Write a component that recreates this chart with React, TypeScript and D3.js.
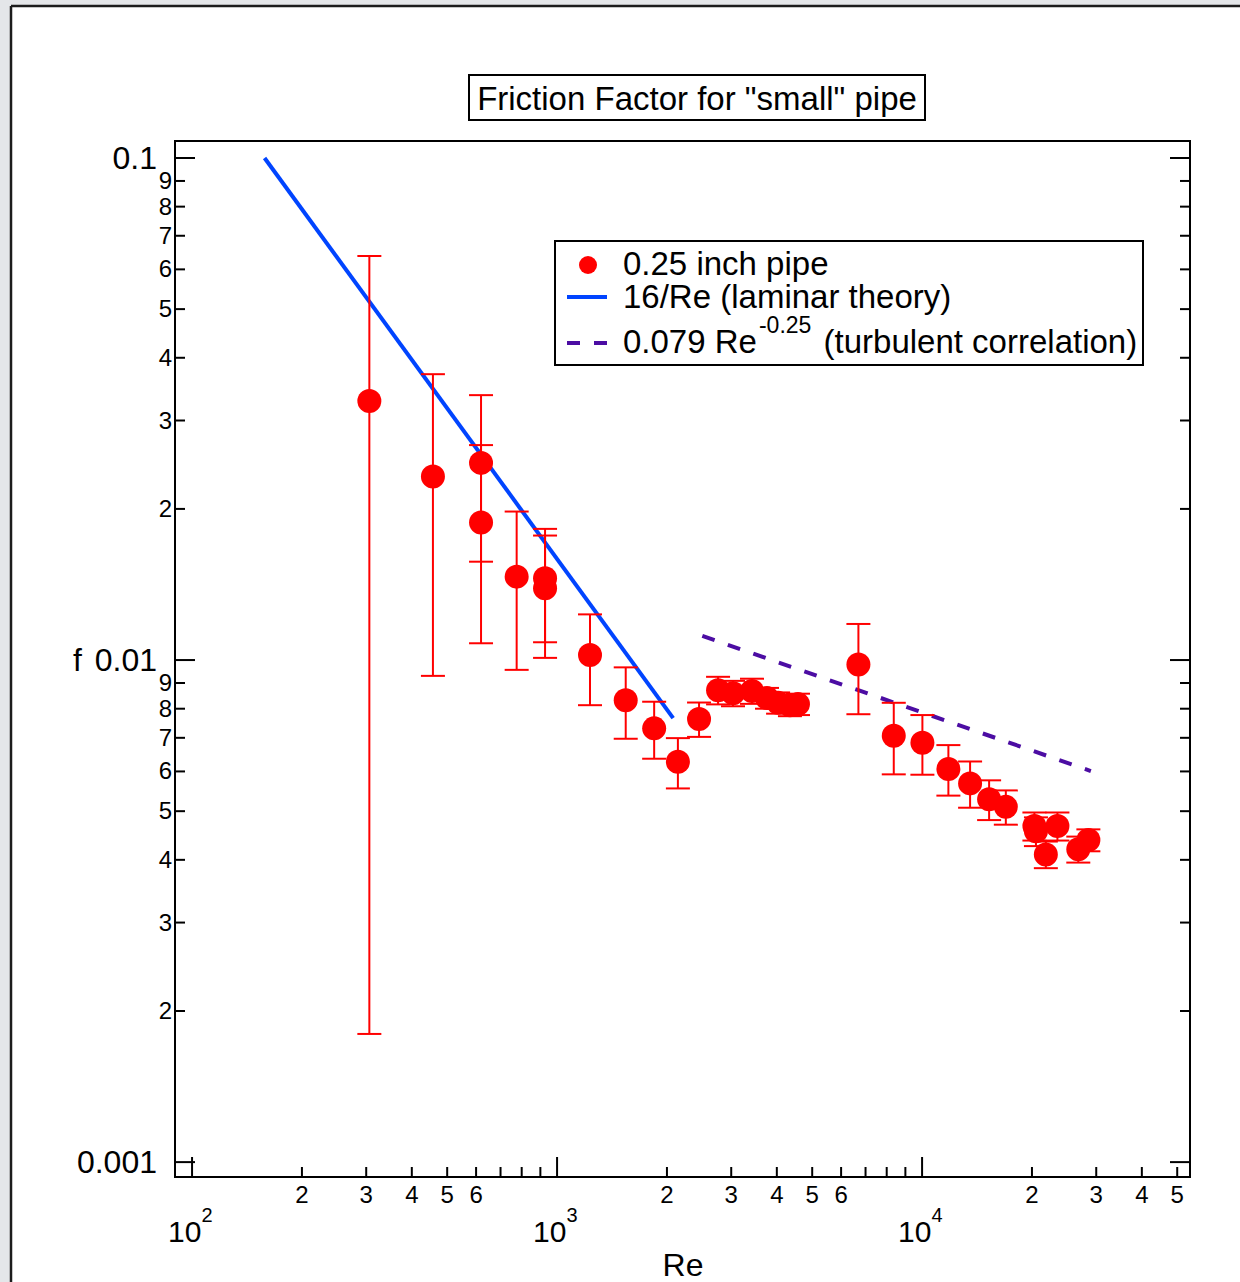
import React from 'react'
import { scaleLog, line } from 'd3'

// measured points: Reynolds number, friction factor, +/- error
const reValues = [306, 457, 619, 619, 775, 927, 927, 1231, 1542, 1845, 2143, 2449, 2761, 3034, 3420, 3760, 4032, 4345, 4571, 6692, 8364, 10020, 11805, 13537, 15263, 16960, 20311, 20510, 21830, 23485, 26790, 28550]
const fValues = [0.0328, 0.0232, 0.0247, 0.0188, 0.01466, 0.01455, 0.0139, 0.01023, 0.00832, 0.00731, 0.00627, 0.00763, 0.00871, 0.00859, 0.00868, 0.0084, 0.00822, 0.00813, 0.00817, 0.0098, 0.00707, 0.00684, 0.00607, 0.00568, 0.00528, 0.0051, 0.00467, 0.00456, 0.0041, 0.00467, 0.0042, 0.00438]
const fErrors = [0.031, 0.0139, 0.009, 0.008, 0.0051, 0.0037, 0.0038, 0.0021, 0.00135, 0.00095, 0.00072, 0.0006, 0.00055, 0.0005, 0.0005, 0.0004, 0.0004, 0.0004, 0.0004, 0.002, 0.00115, 0.00093, 0.0007, 0.0006, 0.00048, 0.0004, 0.0003, 0.0003, 0.00025, 0.0003, 0.00025, 0.00022]

// theory lines (end points as drawn)
const laminarRe = [158, 2080]
const laminarF = [0.1, 0.00766]
const turbulentRe = [2500, 29000]
const turbulentF = [0.01117, 0.00601]

// axes
const xDomain = [89.8, 54200]
const yDomain = [0.1081, 0.000934]
const xDecades = [100, 1000, 10000]
const xMajorExp = ['2', '3', '4']
const xMinorLabels = [2, 3, 4, 5, 6]
const yDecades = [0.001, 0.01, 0.1]
const yMajorLabels = ['0.001', '0.01', '0.1']
const yMinorLabels = [2, 3, 4, 5, 6, 7, 8, 9]

const font = '"Liberation Sans", Arial, Helvetica, sans-serif'
const red = '#ff0000'
const blue = '#0044ff'
const purple = '#4c0da3'

const App = () => {
  React.useEffect(() => {
    document.body.style.margin = '0'
    document.body.style.overflow = 'hidden'
  }, [])

  const width = 1240
  const height = 1282
  const left = 175
  const right = 1190
  const top = 141
  const bottom = 1177

  const x = scaleLog().domain(xDomain).range([left, right])
  const y = scaleLog().domain(yDomain).range([top, bottom])

  const xTicks = []
  xDecades.forEach((d) => {
    for (let m = 1; m <= 9; m++) {
      const v = m * d
      if (v >= xDomain[0] && v <= xDomain[1]) xTicks.push({ v, m })
    }
  })
  const yTicks = []
  yDecades.forEach((d) => {
    for (let m = 1; m <= 9; m++) {
      const v = m * d
      if (v <= yDomain[0] && v >= yDomain[1]) yTicks.push({ v, m, d })
    }
  })

  const path = line<number[]>().x((p) => x(p[0])).y((p) => y(p[1]))
  const laminar = laminarRe.map((r, i) => [r, laminarF[i]])
  const turbulent = turbulentRe.map((r, i) => [r, turbulentF[i]])

  return (
    <svg width={width} height={height} style={{ position: 'absolute', left: 0, top: 0, display: 'block' }} fontFamily={font}>
      <rect x={0} y={0} width={width} height={height} fill="#e4e6e9" />
      <rect x={11} y={6} width={width - 11} height={height - 6} fill="#ffffff" />
      <line x1={11} y1={6} x2={width} y2={6} stroke="#1c1c1c" strokeWidth={2.5} />
      <line x1={11} y1={6} x2={11} y2={height} stroke="#1c1c1c" strokeWidth={2.5} />

      {/* title */}
      <rect x={469} y={75} width={456} height={45} fill="white" stroke="black" strokeWidth={2} />
      <text x={697} y={110} textAnchor="middle" fontSize={33}>Friction Factor for "small" pipe</text>

      {/* frame */}
      <rect x={left} y={top} width={right - left} height={bottom - top} fill="none" stroke="black" strokeWidth={2} />

      {/* x ticks */}
      {xTicks.map((t) => (
        <line key={'xt' + t.v} x1={x(t.v)} x2={x(t.v)} y1={bottom} y2={bottom - (t.m === 1 ? 20 : 10)} stroke="black" strokeWidth={2} />
      ))}
      {xTicks.filter((t) => xMinorLabels.includes(t.m)).map((t) => (
        <text key={'xl' + t.v} x={x(t.v)} y={1203} textAnchor="middle" fontSize={24}>{t.m}</text>
      ))}
      {xDecades.map((d, i) => (
        <text key={'xm' + d} x={x(d) - 24} y={1242} fontSize={30}>
          10<tspan dy={-20} fontSize={20}>{xMajorExp[i]}</tspan>
        </text>
      ))}
      <text x={683} y={1276} textAnchor="middle" fontSize={32}>Re</text>

      {/* y ticks, left and right */}
      {yTicks.map((t) => (
        <g key={'yt' + t.v}>
          <line x1={left} x2={left + (t.m === 1 ? 20 : 10)} y1={y(t.v)} y2={y(t.v)} stroke="black" strokeWidth={2} />
          <line x1={right} x2={right - (t.m === 1 ? 20 : 10)} y1={y(t.v)} y2={y(t.v)} stroke="black" strokeWidth={2} />
        </g>
      ))}
      {yTicks.filter((t) => yMinorLabels.includes(t.m)).map((t) => (
        <text key={'yl' + t.v} x={172} y={y(t.v) + 8} textAnchor="end" fontSize={24}>{t.m}</text>
      ))}
      {yDecades.map((d, i) => (
        <text key={'ym' + d} x={157} y={y(d) + 11} textAnchor="end" fontSize={32}>{yMajorLabels[i]}</text>
      ))}
      <text x={73} y={y(0.01) + 11} fontSize={32}>f</text>

      {/* theory lines */}
      <path d={path(laminar)} fill="none" stroke={blue} strokeWidth={4} />
      <path d={path(turbulent)} fill="none" stroke={purple} strokeWidth={4} strokeDasharray="13 14" />

      {/* error bars */}
      {reValues.map((r, i) => {
        const cx = x(r)
        const y1 = y(fValues[i] + fErrors[i])
        const y2 = y(fValues[i] - fErrors[i])
        return (
          <g key={'e' + i} stroke={red} strokeWidth={2}>
            <line x1={cx} x2={cx} y1={y1} y2={y2} />
            <line x1={cx - 12} x2={cx + 12} y1={y1} y2={y1} />
            <line x1={cx - 12} x2={cx + 12} y1={y2} y2={y2} />
          </g>
        )
      })}
      {reValues.map((r, i) => (
        <circle key={'p' + i} cx={x(r)} cy={y(fValues[i])} r={12} fill={red} />
      ))}

      {/* legend */}
      <rect x={555} y={241} width={588} height={124} fill="white" stroke="black" strokeWidth={2} />
      <circle cx={588} cy={265} r={9} fill={red} />
      <text x={623} y={275} fontSize={33}>0.25 inch pipe</text>
      <line x1={567} x2={607} y1={297} y2={297} stroke={blue} strokeWidth={4} />
      <text x={623} y={308} fontSize={33}>16/Re (laminar theory)</text>
      <line x1={567} x2={607} y1={343} y2={343} stroke={purple} strokeWidth={4} strokeDasharray="13 14" />
      <text x={623} y={353} fontSize={33}>
        0.079 Re<tspan dx={2} dy={-20} fontSize={23}>-0.25</tspan>
        <tspan dx={3} dy={20} fontSize={33}> (turbulent correlation)</tspan>
      </text>
    </svg>
  )
}

export default App
